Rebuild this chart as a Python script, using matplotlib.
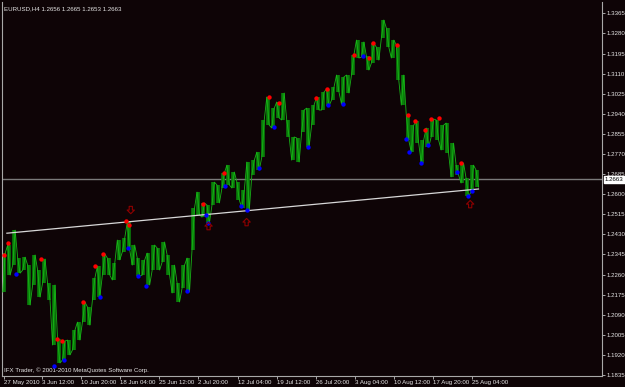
import numpy as np
import matplotlib
matplotlib.use("Agg")
import matplotlib.pyplot as plt
from matplotlib.path import Path
from matplotlib.transforms import blended_transform_factory

# ---------------- data ----------------
symbol_header = "EURUSD,H4 1.2656 1.2665 1.2653 1.2663"
copyright_text = "IFX Trader, \u00a9 2001-2010 MetaQuotes Software Corp."

# high / low envelope of the H4 bars, sampled along the chart (left -> right)
highs = [1.2351, 1.2385, 1.2448, 1.2330, 1.2334, 1.2300, 1.2343, 1.2279, 1.2326, 1.2224,
         1.2216, 1.1987, 1.1979, 1.1983, 1.2025, 1.2059, 1.2144, 1.2123, 1.2245, 1.2296,
         1.2347, 1.2330, 1.2309, 1.2406, 1.2415, 1.2482, 1.2385, 1.2330, 1.2322, 1.2351,
         1.2385, 1.2372, 1.2398, 1.2343, 1.2300, 1.2224, 1.2300, 1.2330, 1.2541, 1.2609,
         1.2563, 1.2554, 1.2651, 1.2639, 1.2690, 1.2723, 1.2694, 1.2651, 1.2618, 1.2736,
         1.2744, 1.2778, 1.2914, 1.3011, 1.2964, 1.2990, 1.3028, 1.2914, 1.2842, 1.2838,
         1.2956, 1.2964, 1.2977, 1.3011, 1.3032, 1.3045, 1.3053, 1.3104, 1.3096, 1.3104,
         1.3189, 1.3252, 1.3244, 1.3184, 1.3239, 1.3222, 1.3337, 1.3303, 1.3252, 1.3231,
         1.3104, 1.2935, 1.2892, 1.2909, 1.2829, 1.2880, 1.2918, 1.2914, 1.2892, 1.2901,
         1.2816, 1.2723, 1.2732, 1.2668, 1.2723, 1.2702]
lows = [1.2186, 1.2258, 1.2300, 1.2266, 1.2279, 1.2131, 1.2216, 1.2165, 1.2224, 1.2152,
        1.1962, 1.1886, 1.1899, 1.1920, 1.1941, 1.1983, 1.2059, 1.2046, 1.2152, 1.2165,
        1.2258, 1.2258, 1.2237, 1.2322, 1.2355, 1.2364, 1.2300, 1.2254, 1.2258, 1.2216,
        1.2279, 1.2279, 1.2313, 1.2258, 1.2182, 1.2144, 1.2203, 1.2186, 1.2364, 1.2512,
        1.2503, 1.2478, 1.2554, 1.2563, 1.2626, 1.2639, 1.2626, 1.2575, 1.2541, 1.2533,
        1.2681, 1.2702, 1.2757, 1.2892, 1.2880, 1.2922, 1.2914, 1.2842, 1.2744, 1.2736,
        1.2863, 1.2799, 1.2892, 1.2956, 1.2956, 1.2973, 1.2998, 1.3032, 1.2981, 1.3028,
        1.3104, 1.3176, 1.3180, 1.3125, 1.3155, 1.3167, 1.3260, 1.3222, 1.3176, 1.3083,
        1.2977, 1.2829, 1.2778, 1.2816, 1.2732, 1.2799, 1.2842, 1.2829, 1.2787, 1.2774,
        1.2673, 1.2681, 1.2647, 1.2592, 1.2609, 1.2630]
last_bar = 387          # index of the newest bar
right_space_bars = 489  # empty shift area on the right

# fractal markers (bar index, price)
up_fractal_bar = [0, 3.3, 30.2, 43.3, 47.3, 64.5, 74.3, 80.8, 99.6, 102, 162.4, 179.6,
                  217.1, 224.5, 255.5, 264.5, 286.5, 298.8, 302, 321.6, 330.6, 336.3,
                  344.5, 349.4, 355.9, 373.9]
up_fractal_price = [1.2343, 1.2393, 1.2326, 1.1987, 1.1979, 1.2144, 1.2296, 1.2347, 1.2486,
                    1.2470, 1.2558, 1.2690, 1.3011, 1.2986, 1.3007, 1.3045, 1.3189, 1.3176,
                    1.3239, 1.3231, 1.2935, 1.2909, 1.2871, 1.2918, 1.2922, 1.2732]
down_fractal_bar = [9.8, 40.8, 49, 78.4, 101.2, 109.4, 115.9, 149.4, 164.9, 166.5, 180.4,
                    193.5, 198.4, 208.2, 220.4, 248.2, 265.3, 277.6, 293.9, 329, 331.4,
                    341.2, 347, 370.6, 379.6, 382.9]
down_fractal_price = [1.2262, 1.1873, 1.1898, 1.2165, 1.2372, 1.2254, 1.2211, 1.2190, 1.2512,
                      1.2478, 1.2634, 1.2550, 1.2533, 1.2711, 1.2884, 1.2799, 1.2977, 1.2981,
                      1.3184, 1.2833, 1.2778, 1.2732, 1.2808, 1.2694, 1.2592, 1.2613]

# hollow signal arrows
sell_arrow_bar = [103.7]
sell_arrow_price = [1.2533]
buy_arrow_bar = [167.3, 198.4, 381.2]
buy_arrow_price = [1.2465, 1.2482, 1.2558]

# trend line end points
trend_bar = [2.4, 388]
trend_price = [1.2435, 1.2622]

current_price = 1.2663

# axes scale
price_ticks = [1.1835 + 0.0085 * k for k in range(19)]
time_tick_bars = [0, 31, 63, 95, 127, 159, 191, 223, 255, 287, 319, 351, 383]
time_tick_labels = ["27 May 2010", "3 Jun 12:00", "10 Jun 20:00", "18 Jun 04:00",
                    "25 Jun 12:00", "2 Jul 20:00", "12 Jul 04:00", "19 Jul 12:00",
                    "26 Jul 20:00", "3 Aug 04:00", "10 Aug 12:00", "17 Aug 20:00",
                    "25 Aug 04:00"]
y_min, y_max = 1.1831, 1.3413

# ---------------- drawing ----------------
BG = "#0e0406"
FG = "#e6e6e6"
plt.rcParams["font.family"] = ["Liberation Sans", "DejaVu Sans"]

W, H = 625, 387
fig = plt.figure(figsize=(W / 100, H / 100), dpi=100, facecolor=BG)
ax = fig.add_axes([2 / W, (H - 376) / H, 600 / W, 374 / H], facecolor=BG)

n = len(highs)
bars = np.linspace(0, last_bar, n)
hi = np.array(highs)
lo = np.array(lows)

# bars: vertical high-low strokes
ax.vlines(bars, lo, hi, color="#0a800a", lw=2.6, zorder=2)
# zigzag to give the dense bar texture
zx, zy = [], []
for i in range(n):
    a, b = (lo[i], hi[i]) if i % 2 == 0 else (hi[i], lo[i])
    zx += [bars[i] - 1.0, bars[i] + 1.0]
    zy += [a, b]
ax.plot(zx, zy, color="#17b417", lw=0.6, zorder=3)

# current price line
ax.axhline(current_price, color="#7a7a7a", lw=1.0, zorder=1)
# trend line
ax.plot(trend_bar, trend_price, color="#d8d8d8", lw=0.9, zorder=4)

# fractals
ax.scatter(up_fractal_bar, up_fractal_price, s=10, color="#ff0000", zorder=5, linewidths=0)
ax.scatter(down_fractal_bar, down_fractal_price, s=10, color="#0000ff", zorder=5, linewidths=0)

# hollow arrow markers
down_arrow = Path([(-0.22, 0.5), (0.22, 0.5), (0.22, 0.0), (0.5, 0.0), (0.0, -0.5),
                   (-0.5, 0.0), (-0.22, 0.0), (-0.22, 0.5)], closed=True)
up_arrow = Path([(x, -y) for x, y in down_arrow.vertices], closed=True)
ax.scatter(sell_arrow_bar, sell_arrow_price, marker=down_arrow, s=28,
           facecolors="none", edgecolors="#8e0000", linewidths=0.8, zorder=6)
ax.scatter(buy_arrow_bar, buy_arrow_price, marker=up_arrow, s=28,
           facecolors="none", edgecolors="#8e0000", linewidths=0.8, zorder=6)

ax.set_xlim(-1.6, right_space_bars)
ax.set_ylim(y_min, y_max)

# spines
for side in ["left", "bottom", "right"]:
    ax.spines[side].set_color("#a8a8a8")
    ax.spines[side].set_linewidth(0.8)
ax.spines["top"].set_visible(False)

# price axis on the right
ax.yaxis.tick_right()
ax.set_yticks(price_ticks)
ax.set_yticklabels([f"{p:.4f}" for p in price_ticks])
ax.tick_params(axis="y", colors="#a8a8a8", labelcolor=FG, length=2, width=0.7,
               labelsize=4.4, pad=1.2, direction="out")

# time axis
ax.set_xticks(time_tick_bars)
ax.set_xticklabels(time_tick_labels)
ax.tick_params(axis="x", colors="#a8a8a8", labelcolor=FG, length=2, width=0.7,
               labelsize=4.4, pad=1.0, direction="out")
for lab in ax.get_xticklabels():
    lab.set_horizontalalignment("left")

# current price box
tr = blended_transform_factory(ax.transAxes, ax.transData)
ax.text(1.005, current_price, f"{current_price:.4f}", transform=tr, color="black",
        fontsize=4.4, ha="left", va="center", zorder=10, clip_on=False,
        bbox=dict(boxstyle="square,pad=0.15", fc="white", ec="white"))

# texts
ax.text(0.004, 0.988, symbol_header, transform=ax.transAxes, color=FG, fontsize=4.4,
        ha="left", va="top")
ax.text(0.004, 0.008, copyright_text, transform=ax.transAxes, color=FG, fontsize=4.4,
        ha="left", va="bottom")

fig.savefig("out.png", dpi=100, facecolor=BG)
